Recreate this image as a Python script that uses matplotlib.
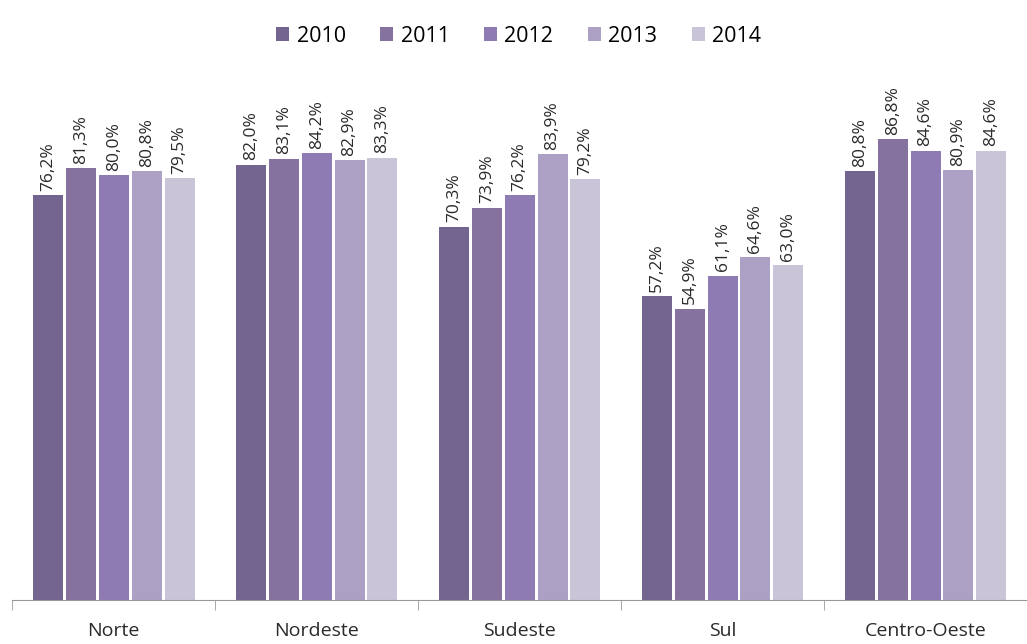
import numpy as np
import matplotlib.pyplot as plt

regions = ["Norte", "Nordeste", "Sudeste", "Sul", "Centro-Oeste"]
years = ["2010", "2011", "2012", "2013", "2014"]
values = {
    "2010": [76.2, 82.0, 70.3, 57.2, 80.8],
    "2011": [81.3, 83.1, 73.9, 54.9, 86.8],
    "2012": [80.0, 84.2, 76.2, 61.1, 84.6],
    "2013": [80.8, 82.9, 83.9, 64.6, 80.9],
    "2014": [79.5, 83.3, 79.2, 63.0, 84.6],
}
colors = ["#736490", "#86729f", "#8f7bb4", "#aca1c4", "#cac4d9"]

plt.rcParams["font.family"] = ["Open Sans", "DejaVu Sans"]

fig = plt.figure(figsize=(10.27, 6.44), dpi=100)
ax = fig.add_axes([0.012, 0.068, 0.988, 0.825])

x = np.arange(len(regions))
bar_w = 0.148
step = 0.162

for i, year in enumerate(years):
    pos = x + (i - 2) * step
    bars = ax.bar(pos, values[year], width=bar_w, color=colors[i], label=year)
    for b, v in zip(bars, values[year]):
        ax.text(b.get_x() + b.get_width() / 2, v + 0.8,
                f"{v:.1f}%".replace(".", ","),
                rotation=90, ha="center", va="bottom", fontsize=12.5, color="#2a2a2a")

ax.set_xlim(-0.5, len(regions) - 0.5)
ax.set_ylim(0, 100)

for s in ["top", "right", "left"]:
    ax.spines[s].set_visible(False)
ax.spines["bottom"].set_color("#999999")
ax.set_yticks([])

ax.set_xticks(x)
ax.set_xticklabels(regions, fontsize=14, color="#2a2a2a")
ax.tick_params(axis="x", which="major", length=0, pad=16)
ax.set_xticks(np.arange(-0.5, len(regions)), minor=True)
ax.tick_params(axis="x", which="minor", length=7, color="#999999")

fig.legend(loc="upper center", bbox_to_anchor=(0.505, 0.99), ncol=5,
           frameon=False, fontsize=15.5, handlelength=0.6, handleheight=0.6,
           handletextpad=0.35, columnspacing=1.6)

fig.savefig("out.png", dpi=100)
